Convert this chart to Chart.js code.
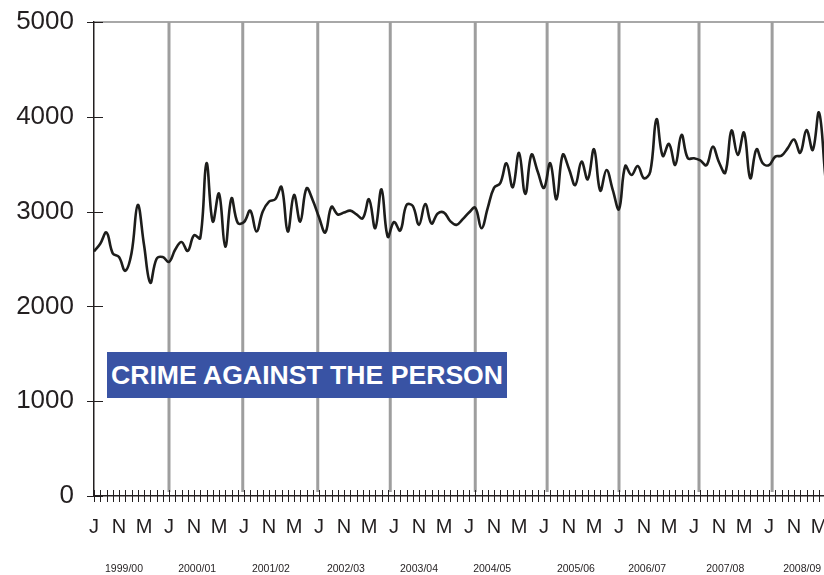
<!DOCTYPE html>
<html>
<head>
<meta charset="utf-8">
<title>Crime against the person</title>
<script src="https://cdn.jsdelivr.net/npm/chart.js@4.4.1/dist/chart.umd.min.js"></script>
<style>
  html, body { margin: 0; padding: 0; background: #fff; overflow: hidden; }
  #wrap { position: relative; width: 880px; height: 575px; }
  #badge {
    position: absolute; left: 107px; top: 352px; width: 400px; height: 46px;
    background: #3953a4; color: #fff; text-align: center; white-space: nowrap;
    font: bold 26.6px "Liberation Sans", Arial, sans-serif; line-height: 46px;
  }
</style>
</head>
<body>
<div id="wrap">
  <canvas id="chart" width="880" height="575"></canvas>
  <div id="badge">CRIME AGAINST THE PERSON</div>
</div>
<script>
"use strict";

// monthly counts, July 1999 onwards (one row per financial year)
const crimeCounts = [
  2580, 2660, 2780, 2560, 2520, 2375, 2560, 3070, 2650, 2250, 2500, 2520,
  2470, 2600, 2680, 2585, 2750, 2720, 3510, 2895, 3190, 2630, 3140, 2880,
  2890, 3010, 2790, 3000, 3105, 3130, 3260, 2790, 3175, 2895, 3245, 3120,
  2940, 2780, 3050, 2970, 2990, 3010, 2970, 2930, 3130, 2825, 3235, 2735,
  2890, 2800, 3070, 3060, 2860, 3080, 2875, 2980, 2990, 2900, 2860, 2920,
  2990, 3040, 2825, 3040, 3250, 3300, 3510, 3257, 3620, 3186, 3600, 3420,
  3250, 3510, 3130, 3600, 3450, 3280, 3527, 3340, 3658, 3221, 3439, 3230,
  3025, 3481, 3387, 3481, 3352, 3421, 3974, 3587, 3714, 3492, 3809, 3563,
  3563, 3540, 3490, 3685, 3520, 3410, 3855, 3598, 3833, 3352, 3658, 3510,
  3490, 3580, 3590, 3670, 3760, 3620, 3860, 3650, 4045, 3380
];

const monthLetters = ['J', 'N', 'M'];
const yearLabels = ['1999/00', '2000/01', '2001/02', '2002/03', '2003/04',
                    '2004/05', '2005/06', '2006/07', '2007/08', '2008/09'];
// where the labels and grey year dividers sit, in months from July 1999
const yearLabelAt = [4.8, 16.5, 28.3, 40.3, 52, 63.7, 77.1, 88.5, 101, 113.3];
const dividerAt = [12, 23.8, 35.8, 47.4, 61, 72.5, 84, 96.8, 108.5];

const ink = '#231f20';
Chart.defaults.font.family = '"Liberation Sans", Arial, Helvetica, sans-serif';

const axisDecor = {
  id: 'axisDecor',
  beforeDatasetsDraw(chart) {
    const {ctx, chartArea, scales: {x}} = chart;
    ctx.save();
    ctx.strokeStyle = '#9e9e9e';
    ctx.lineWidth = 3;
    dividerAt.forEach(m => {
      const px = x.getPixelForValue(m);
      ctx.beginPath();
      ctx.moveTo(px, chartArea.top);
      ctx.lineTo(px, chartArea.bottom - 4);
      ctx.stroke();
    });
    ctx.restore();
  },
  afterDraw(chart) {
    const {ctx, chartArea, scales: {x, y}} = chart;
    ctx.save();
    ctx.strokeStyle = ink;
    ctx.lineWidth = 1;
    x.ticks.forEach((t, i) => {
      const px = Math.round(x.getPixelForTick(i)) + 0.5;
      ctx.beginPath();
      ctx.moveTo(px, chartArea.bottom - 6);
      ctx.lineTo(px, chartArea.bottom + 6);
      ctx.stroke();
    });
    y.ticks.forEach((t, i) => {
      const py = Math.round(y.getPixelForTick(i)) + 0.5;
      ctx.beginPath();
      ctx.moveTo(chartArea.left - 7, py);
      ctx.lineTo(chartArea.left + 9, py);
      ctx.stroke();
    });
    ctx.fillStyle = ink;
    ctx.font = '10.5px "Liberation Sans", Arial, sans-serif';
    ctx.textAlign = 'center';
    ctx.textBaseline = 'middle';
    yearLabels.forEach((lbl, i) => {
      ctx.fillText(lbl, x.getPixelForValue(yearLabelAt[i]), chartArea.bottom + 73);
    });
    ctx.restore();
  }
};

new Chart(document.getElementById('chart'), {
  type: 'line',
  data: {
    datasets: [{
      data: crimeCounts.map((v, i) => ({x: i, y: v})),
      borderColor: '#1d1d1b',
      borderWidth: 2.6,
      pointRadius: 0,
      tension: 0.4,
      fill: false
    }]
  },
  options: {
    responsive: false,
    animation: false,
    devicePixelRatio: 1,
    layout: { padding: { top: 22, right: 11, left: 0, bottom: 0 } },
    plugins: { legend: { display: false }, tooltip: { enabled: false } },
    scales: {
      x: {
        type: 'linear',
        min: 0,
        max: 124,
        afterFit: s => { s.height = 79; },
        // invisible tick marks only push the labels down
        grid: { display: false, drawTicks: true, tickLength: 19 },
        border: { display: true, color: ink, width: 1.5 },
        ticks: {
          stepSize: 1,
          autoSkip: false,
          maxRotation: 0,
          padding: 0,
          color: ink,
          font: { size: 20 },
          callback: v => v % 4 === 0 ? monthLetters[(v / 4) % 3] : ''
        }
      },
      y: {
        min: 0,
        max: 5000,
        afterFit: s => { s.width = 94; },
        grid: {
          drawTicks: true,
          tickLength: 20,
          tickColor: 'rgba(0,0,0,0)',
          lineWidth: 2,
          color: c => c.tick.value === 5000 ? '#a8a8a8' : 'rgba(0,0,0,0)'
        },
        border: { display: true, color: ink, width: 1.5 },
        ticks: {
          stepSize: 1000,
          padding: 0,
          color: ink,
          font: { size: 26 },
          callback: v => String(v)
        }
      }
    }
  },
  plugins: [axisDecor]
});
</script>
</body>
</html>
